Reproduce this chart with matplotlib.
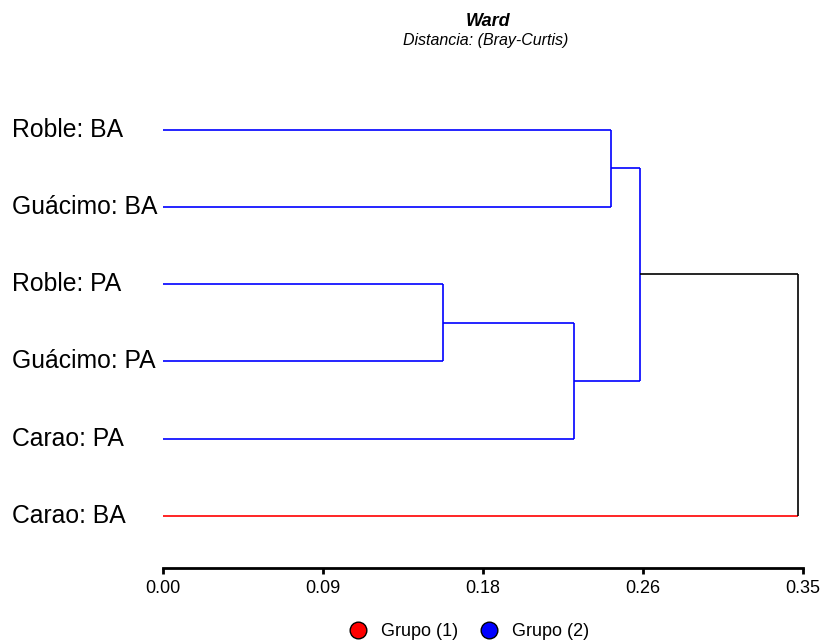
import matplotlib
matplotlib.use("Agg")
import matplotlib.pyplot as plt
from matplotlib.lines import Line2D

plt.rcParams["font.family"] = ["Liberation Sans", "DejaVu Sans"]

# leaves, top to bottom
labels = ["Roble: BA", "Guácimo: BA", "Roble: PA", "Guácimo: PA", "Carao: PA", "Carao: BA"]
groups = [2, 2, 2, 2, 2, 1]

# merges (child_a, child_b, height); new node ids start at len(labels)
merge_a = [0, 2, 7, 6, 9]
merge_b = [1, 3, 4, 8, 5]
merge_h = [0.245, 0.153, 0.225, 0.261, 0.347]

tick_vals = [0.0, 0.0875, 0.175, 0.2625, 0.35]
tick_labels = ["0.00", "0.09", "0.18", "0.26", "0.35"]

group_colors = {1: "#ff0000", 2: "#0000ff"}
mixed_color = "black"

W, H = 823, 642
fig = plt.figure(figsize=(W / 100, H / 100), dpi=100)
y_bottom, y_top = -0.674, 5.5
ax = fig.add_axes([163 / W, 74 / H, (803 - 163) / W, (551 - 74) / H])

n = len(labels)
ypos = {i: n - 1 - i for i in range(n)}
xpos = {i: 0.0 for i in range(n)}
members = {i: {groups[i]} for i in range(n)}

for k, (a, b, h) in enumerate(zip(merge_a, merge_b, merge_h)):
    node = n + k
    members[node] = members[a] | members[b]
    col = group_colors[list(members[node])[0]] if len(members[node]) == 1 else mixed_color
    for c in (a, b):
        hcol = group_colors[groups[c]] if c < n else col
        ax.plot([xpos[c], h], [ypos[c], ypos[c]], color=hcol, lw=1.2, solid_capstyle="butt")
    ax.plot([h, h], [ypos[a], ypos[b]], color=col, lw=1.2, solid_capstyle="butt")
    xpos[node] = h
    ypos[node] = (ypos[a] + ypos[b]) / 2

ax.set_xlim(0, 0.35)
ax.set_ylim(y_bottom, y_top)
for s in ["top", "right", "left"]:
    ax.spines[s].set_visible(False)
ax.spines["bottom"].set_linewidth(2)
ax.set_yticks([])
ax.set_xticks(tick_vals)
ax.set_xticklabels(tick_labels, fontsize=13)
ax.tick_params(axis="x", direction="out", length=4, width=2, pad=4.5)

for i, lab in enumerate(labels):
    yfig = ax.transData.transform((0, ypos[i]))[1] / H
    fig.text(12 / W, yfig, lab, fontsize=17.8, ha="left", va="center")

fig.text(488 / W, 1 - 22 / H, "Ward", fontsize=13, fontweight="bold", style="italic",
         ha="center", va="center")
fig.text(486 / W, 1 - 41 / H, "Distancia: (Bray-Curtis)", fontsize=11.5, style="italic",
         ha="center", va="center")

handles = [Line2D([], [], ls="none", marker="o", markersize=12, markerfacecolor=group_colors[g],
                  markeredgecolor="black", markeredgewidth=1) for g in (1, 2)]
fig.legend(handles, ["Grupo (1)", "Grupo (2)"], loc="center", ncol=2, frameon=False,
           bbox_to_anchor=(469 / W, 10 / H), fontsize=13, handletextpad=0.8,
           columnspacing=1.2, handlelength=1.0)

fig.savefig("out.png", dpi=100)
